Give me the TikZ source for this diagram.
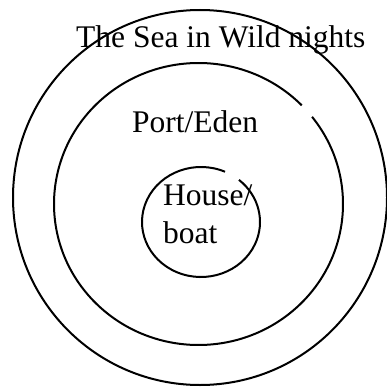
\documentclass[tikz,border=0pt]{standalone}
\usepackage{fontspec}
\setmainfont{Liberation Serif}
\begin{document}
\begin{tikzpicture}[x=1pt,y=-1pt,
  ring/.style={draw=black,line width=2pt},
  lbl/.style={inner sep=0pt,anchor=base west,font=\fontsize{31.5}{38}\selectfont}]
\useasboundingbox (0,0) rectangle (387,390);
% outer ring
\draw[ring] (200,197.5) ellipse [x radius=187, y radius=187.5];
% middle ring with gap
\draw[ring] (198.5,204) ++(44.4:144.5 and -141) arc [start angle=44.4, end angle=398.2, x radius=144.5, y radius=-141];
% inner ring with gap
\draw[ring] (201,222) ++(66:59 and -55) arc [start angle=66, end angle=410, x radius=59, y radius=-55];
\node[lbl] (sea) at (76,48) {The Sea in Wild nights};
\node[lbl] (port) at (132,133) {Port/Eden};
\node[lbl] (house) at (163,205) {House/};
\node[lbl] (boat) at (163,243) {boat};
\end{tikzpicture}
\end{document}
